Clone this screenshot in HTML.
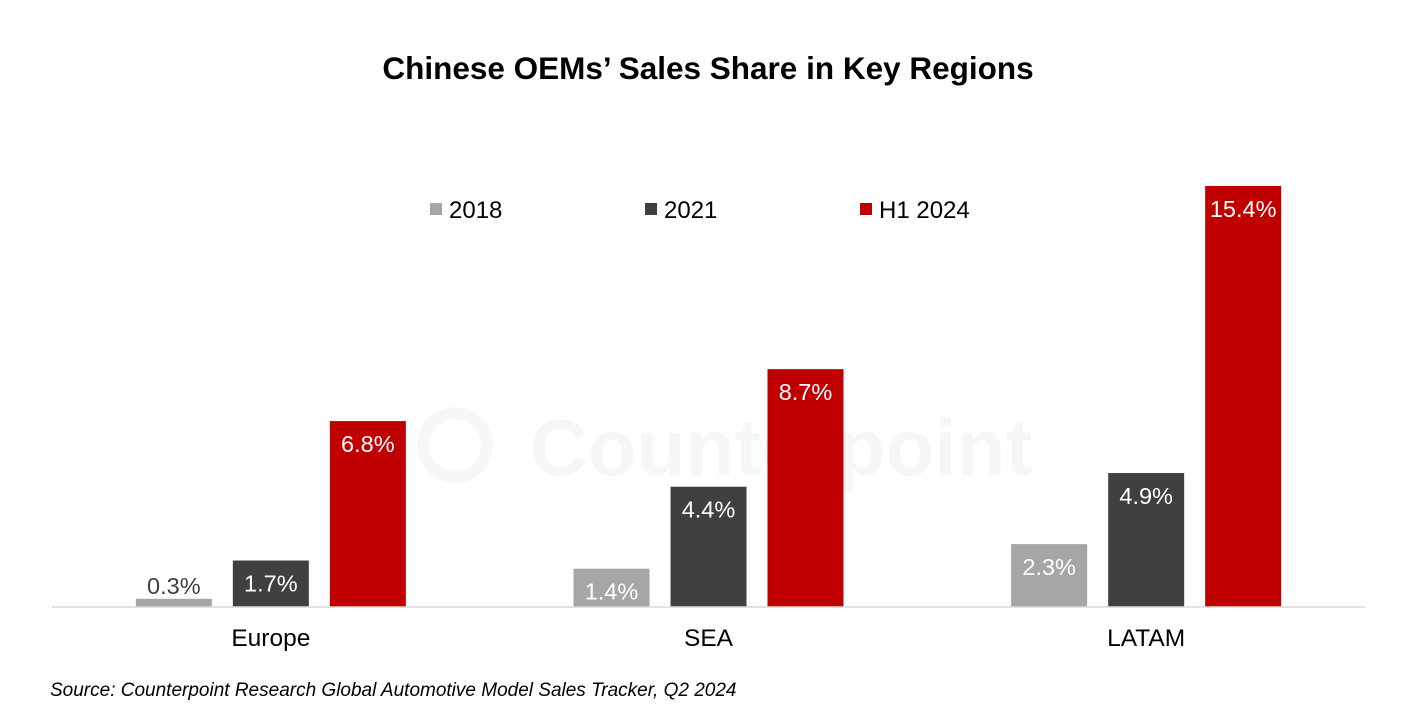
<!DOCTYPE html>
<html><head><meta charset="utf-8">
<style>
body{margin:0;background:#fff;}
svg{display:block;font-family:"Liberation Sans",Arial,sans-serif;}
</style></head>
<body>
<svg id="chart" width="1414" height="726" viewBox="0 0 1414 726">
<text x="708" y="79" text-anchor="middle" font-size="31.5" font-weight="bold" fill="#000">Chinese OEMs’ Sales Share in Key Regions</text>
<g opacity="0.03">
<circle cx="455" cy="445" r="32" fill="none" stroke="#000" stroke-width="12"/>
<text x="530" y="475" font-size="80" font-weight="bold" fill="#000">Counterpoint</text>
</g>
<g id="legend"></g>
<g id="bars"></g>
<line x1="52" y1="607" x2="1365" y2="607" stroke="#d9d9d9" stroke-width="1.5"/>
<g id="xlabels"></g>
<text x="50" y="696" font-size="19" font-style="italic" fill="#000">Source: Counterpoint Research Global Automotive Model Sales Tracker, Q2 2024</text>
</svg>
<script>
const categories = ["Europe", "SEA", "LATAM"];
const seriesNames = ["2018", "2021", "H1 2024"];
const values2018 = [0.3, 1.4, 2.3];
const values2021 = [1.7, 4.4, 4.9];
const valuesH1 = [6.8, 8.7, 15.4];
const series = [values2018, values2021, valuesH1];
const colors = ["#a6a6a6", "#404040", "#c00000"];
const NS = "http://www.w3.org/2000/svg";
const x0 = 52, x1 = 1365, base = 607, pxPerUnit = 27.34;
const bw = (x1 - x0) / categories.length;
const yScale = v => base - v * pxPerUnit;
const barW = 76, step = 97;
function mk(tag, attrs, parent) { const e = document.createElementNS(NS, tag); for (const k in attrs) e.setAttribute(k, attrs[k]); parent.appendChild(e); return e; }
const bars = document.getElementById("bars");
const xl = document.getElementById("xlabels");
categories.forEach((c, i) => {
  const cx = x0 + bw * (i + 0.5);
  series.forEach((s, j) => {
    const v = s[i];
    const bx = cx - barW / 2 + (j - 1) * step;
    const y = yScale(v);
    const r = mk("rect", { x: bx, y: y, width: barW, height: base - y, fill: colors[j] }, bars);
    
    
    const small = (base - y) < 30;
    const t = mk("text", { x: bx + barW / 2, y: small ? y - 5 : y + 31, "text-anchor": "middle", "font-size": "23.5", fill: small ? "#404040" : "#fff" }, bars);
    t.textContent = v.toFixed(1) + "%";
    
    
  });
  const lt = mk("text", { x: cx, y: 646, "text-anchor": "middle", "font-size": "24.5", fill: "#000" }, xl);
  lt.textContent = c;
  
  
});
const legend = document.getElementById("legend");
const legX = [430, 645, 860];
seriesNames.forEach((n, j) => {
  const g = mk("g", {}, legend);
  
  
  mk("rect", { x: legX[j], y: 203, width: 12, height: 12, fill: colors[j] }, g);
  const t = mk("text", { x: legX[j] + 19, y: 218, "font-size": "24", fill: "#000" }, g);
  t.textContent = n;
});
</script>
</body></html>
